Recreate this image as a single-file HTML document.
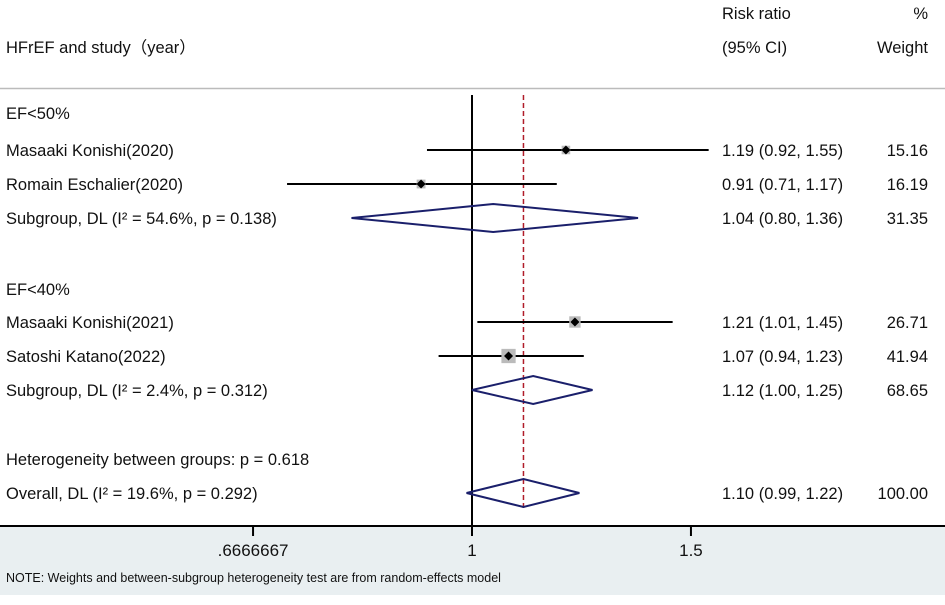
<!DOCTYPE html>
<html><head><meta charset="utf-8"><style>
body{margin:0;width:945px;height:600px;background:#fff;overflow:hidden}
svg text{font-family:"Liberation Sans","Noto Sans CJK SC",sans-serif;font-size:16.5px;fill:#111}
</style></head><body>
<svg id="plot" width="945" height="600">
<rect x="0" y="527" width="945" height="68" fill="#e9eff1"/>
<line x1="0" y1="88.5" x2="945" y2="88.5" stroke="#bbb" stroke-width="1.5"/>
<text x="722" y="19">Risk ratio</text>
<text x="928" y="19" text-anchor="end">%</text>
<text x="6" y="53">HFrEF and study（year）</text>
<text x="722" y="53">(95% CI)</text>
<text x="928" y="53" text-anchor="end">Weight</text>
<g id="marks"></g>
<text x="6" y="582" style="font-size:12.5px">NOTE: Weights and between-subgroup heterogeneity test are from random-effects model</text>
</svg>
<script>
const labels=["EF<50%","Masaaki Konishi(2020)","Romain Eschalier(2020)","Subgroup, DL (I\u00b2 = 54.6%, p = 0.138)","EF<40%","Masaaki Konishi(2021)","Satoshi Katano(2022)","Subgroup, DL (I\u00b2 = 2.4%, p = 0.312)","Heterogeneity between groups: p = 0.618","Overall, DL (I\u00b2 = 19.6%, p = 0.292)"];
const rowY=[113,150,184,218,289,322,356,390,459,493];
const kinds=["head","study","study","sub","head","study","study","sub","head","sub"];
const est=[null,1.19,0.91,1.04,null,1.21,1.07,1.12,null,1.10];
const lo=[null,0.92,0.71,0.80,null,1.01,0.94,1.00,null,0.99];
const hi=[null,1.55,1.17,1.36,null,1.45,1.23,1.25,null,1.22];
const weights=[null,15.16,16.19,31.35,null,26.71,41.94,68.65,null,100.00];
const ticks=[0.6666667,1,1.5];
const tickLabels=[".6666667","1","1.5"];
const overall=1.10;
const NS="http://www.w3.org/2000/svg";
const g=document.getElementById('marks');
const sx=v=>472+Math.log(v)*540;
function mk(t,a){const e=document.createElementNS(NS,t);for(const k in a)e.setAttribute(k,a[k]);g.appendChild(e);return e;}
const axisY=526;
let e=mk('line',{x1:sx(1),y1:95,x2:sx(1),y2:axisY,stroke:'#000','stroke-width':2});


e=mk('line',{x1:sx(overall),y1:95,x2:sx(overall),y2:510,stroke:'#b01c2a','stroke-width':1.5,'stroke-dasharray':'5,3'});


e=mk('line',{x1:0,y1:axisY,x2:945,y2:axisY,stroke:'#000','stroke-width':2});


ticks.forEach((t,i)=>{
 let l=mk('line',{x1:sx(t),y1:axisY,x2:sx(t),y2:axisY+10,stroke:'#000','stroke-width':2});
 
 
 let tx=mk('text',{x:sx(t),y:556,'text-anchor':'middle',style:'font-size:17px'});tx.textContent=tickLabels[i];
 
 
});
labels.forEach((lab,i)=>{
 const y=rowY[i];
 let t=mk('text',{x:6,y:y+6});t.textContent=lab;
 
 
 if(est[i]==null)return;
 if(kinds[i]==='study'){
  let l=mk('line',{x1:sx(lo[i]),y1:y,x2:sx(hi[i]),y2:y,stroke:'#000','stroke-width':2});
  
  
  const s=Math.sqrt(weights[i])*2.2;
  let r=mk('rect',{x:sx(est[i])-s/2,y:y-s/2,width:s,height:s,fill:'#bbb'});
  
  
  const c=sx(est[i]);
  let d=mk('polygon',{points:`${c-4.5},${y} ${c},${y-4.5} ${c+4.5},${y} ${c},${y+4.5}`,fill:'#000'});
  
  
 }else{
  const c=sx(est[i]);
  let d=mk('polygon',{points:`${sx(lo[i])},${y} ${c},${y-14} ${sx(hi[i])},${y} ${c},${y+14}`,fill:'none',stroke:'#1a1f6b','stroke-width':2});
  
  
 }
 let ci=mk('text',{x:722,y:y+6});ci.textContent=`${est[i].toFixed(2)} (${lo[i].toFixed(2)}, ${hi[i].toFixed(2)})`;
 
 
 let w=mk('text',{x:928,y:y+6,'text-anchor':'end'});w.textContent=weights[i].toFixed(2);
 
 
});
</script>
</body></html>
